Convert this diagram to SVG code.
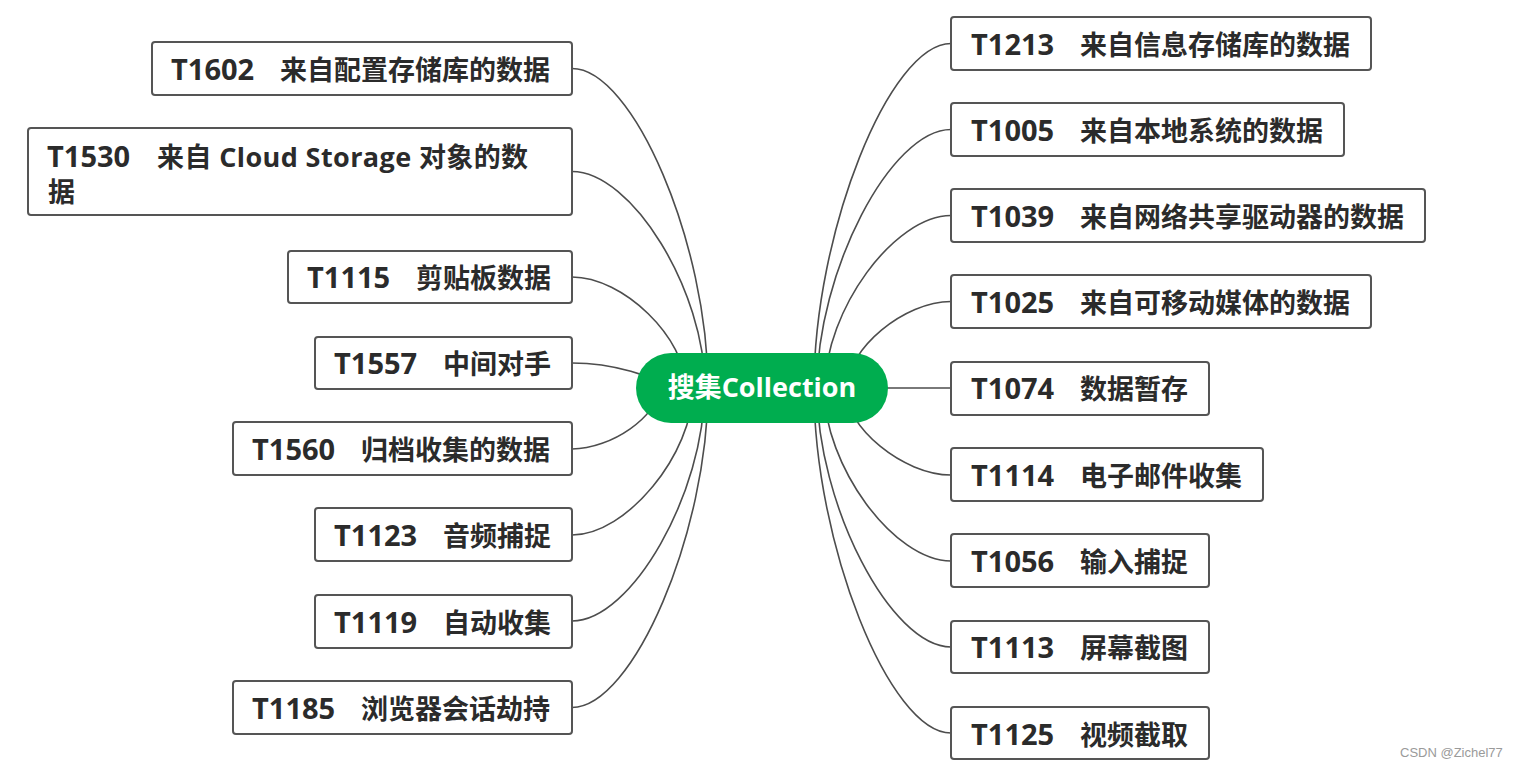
<svg xmlns="http://www.w3.org/2000/svg" width="1519" height="767" viewBox="0 0 1519 767">
<style>
.box{fill:#fff;stroke:#555;stroke-width:2}
.t{font-family:"Open Sans","Noto Sans CJK SC",sans-serif;font-weight:bold;font-size:27px;fill:#2b2b2b}
.code{font-size:29px}
.c{fill:none;stroke:#4d4d4d;stroke-width:1.6}
.root{fill:#00AD4F}
.rt{font-family:"Open Sans","Noto Sans CJK SC",sans-serif;font-weight:bold;font-size:27px;fill:#fff}
.wm{font-family:"Liberation Sans",Arial,sans-serif;font-size:13px;fill:#9a9a9a}
</style>
<rect width="1519" height="767" fill="#fff"/>
<g id="connectors">
<path class="c" d="M708 388 C708 244.2 633.2 68.5 572 68.5"/>
<path class="c" d="M705 388 C705 290.6 631.9 171.5 572 171.5"/>
<path class="c" d="M686 388 C686 338 623.3 277 572 277"/>
<path class="c" d="M660 388 C660 376.8 611.6 363 572 363"/>
<path class="c" d="M659 388 C659 415.5 611.2 449 572 449"/>
<path class="c" d="M693 388 C693 454.2 626.5 535 572 535"/>
<path class="c" d="M704.5 388 C704.5 492.9 631.6 621 572 621"/>
<path class="c" d="M708 388 C708 531.8 633.2 707.5 572 707.5"/>
<path class="c" d="M814 388 C814 233 889.4 43.5 951 43.5"/>
<path class="c" d="M817 388 C817 271.7 890.7 129.5 951 129.5"/>
<path class="c" d="M825 388 C825 310.4 894.3 215.5 951 215.5"/>
<path class="c" d="M847 388 C847 349.1 904.2 301.5 951 301.5"/>
<path class="c" d="M887 388 H951"/>
<path class="c" d="M845 388 C845 427.2 903.3 475 951 475"/>
<path class="c" d="M824 388 C824 465.9 893.9 561 951 561"/>
<path class="c" d="M817 388 C817 504.6 890.7 647 951 647"/>
<path class="c" d="M814 388 C814 543.3 889.4 733 951 733"/>
</g>
<g id="root">
<rect class="root" x="636" y="353" width="252" height="70" rx="35"/>
<text class="rt" x="762" y="397" text-anchor="middle">搜集Collection</text>
</g>
<g id="T1602"><rect class="box" x="152" y="42" width="420" height="53" rx="3"/><text class="t" x="171" y="80"><tspan class="code">T1602</tspan> <tspan x="280">来自配置存储库的数据</tspan></text></g>
<g id="T1530"><rect class="box" x="28" y="128" width="544" height="87" rx="3"/><text class="t" x="47" y="167"><tspan class="code">T1530</tspan> <tspan x="157" letter-spacing="0.4">来自 Cloud Storage 对象的数</tspan></text><text class="t" x="48" y="202">据</text></g>
<g id="T1115"><rect class="box" x="288" y="251" width="284" height="52" rx="3"/><text class="t" x="307" y="288"><tspan class="code">T1115</tspan> <tspan x="416">剪贴板数据</tspan></text></g>
<g id="T1557"><rect class="box" x="315" y="337" width="257" height="52" rx="3"/><text class="t" x="334" y="374"><tspan class="code">T1557</tspan> <tspan x="443">中间对手</tspan></text></g>
<g id="T1560"><rect class="box" x="233" y="422" width="339" height="53" rx="3"/><text class="t" x="252" y="460"><tspan class="code">T1560</tspan> <tspan x="361">归档收集的数据</tspan></text></g>
<g id="T1123"><rect class="box" x="315" y="508" width="257" height="53" rx="3"/><text class="t" x="334" y="546"><tspan class="code">T1123</tspan> <tspan x="443">音频捕捉</tspan></text></g>
<g id="T1119"><rect class="box" x="315" y="595" width="257" height="53" rx="3"/><text class="t" x="334" y="633"><tspan class="code">T1119</tspan> <tspan x="443">自动收集</tspan></text></g>
<g id="T1185"><rect class="box" x="233" y="681" width="339" height="53" rx="3"/><text class="t" x="252" y="719"><tspan class="code">T1185</tspan> <tspan x="361">浏览器会话劫持</tspan></text></g>
<g id="T1213"><rect class="box" x="951" y="17" width="420" height="53" rx="3"/><text class="t" x="971" y="55"><tspan class="code">T1213</tspan> <tspan x="1080">来自信息存储库的数据</tspan></text></g>
<g id="T1005"><rect class="box" x="951" y="103" width="393" height="53" rx="3"/><text class="t" x="971" y="141"><tspan class="code">T1005</tspan> <tspan x="1080">来自本地系统的数据</tspan></text></g>
<g id="T1039"><rect class="box" x="951" y="189" width="474" height="53" rx="3"/><text class="t" x="971" y="227"><tspan class="code">T1039</tspan> <tspan x="1080">来自网络共享驱动器的数据</tspan></text></g>
<g id="T1025"><rect class="box" x="951" y="275" width="420" height="53" rx="3"/><text class="t" x="971" y="313"><tspan class="code">T1025</tspan> <tspan x="1080">来自可移动媒体的数据</tspan></text></g>
<g id="T1074"><rect class="box" x="951" y="362" width="258" height="53" rx="3"/><text class="t" x="971" y="399"><tspan class="code">T1074</tspan> <tspan x="1080">数据暂存</tspan></text></g>
<g id="T1114"><rect class="box" x="951" y="448" width="312" height="53" rx="3"/><text class="t" x="971" y="486"><tspan class="code">T1114</tspan> <tspan x="1080">电子邮件收集</tspan></text></g>
<g id="T1056"><rect class="box" x="951" y="534" width="258" height="53" rx="3"/><text class="t" x="971" y="572"><tspan class="code">T1056</tspan> <tspan x="1080">输入捕捉</tspan></text></g>
<g id="T1113"><rect class="box" x="951" y="621" width="258" height="52" rx="3"/><text class="t" x="971" y="658"><tspan class="code">T1113</tspan> <tspan x="1080">屏幕截图</tspan></text></g>
<g id="T1125"><rect class="box" x="951" y="707" width="258" height="52" rx="3"/><text class="t" x="971" y="745"><tspan class="code">T1125</tspan> <tspan x="1080">视频截取</tspan></text></g>
<text class="wm" x="1400" y="757">CSDN @Zichel77</text>
</svg>
